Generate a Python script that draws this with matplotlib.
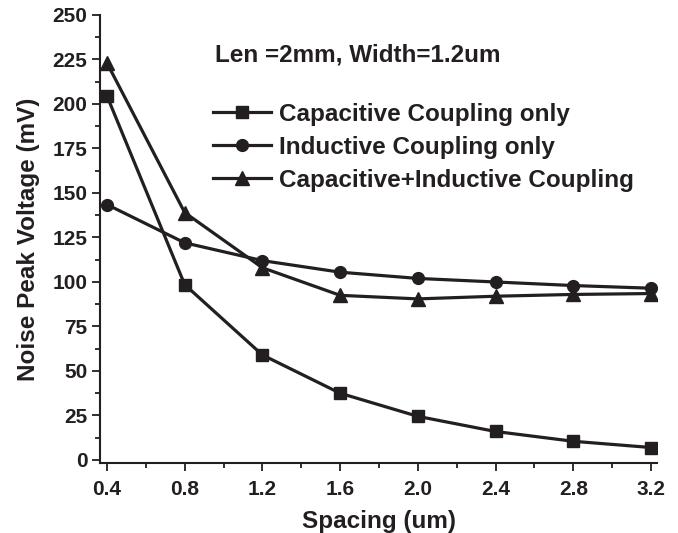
import matplotlib
matplotlib.use("Agg")
import matplotlib.pyplot as plt
from matplotlib.ticker import MultipleLocator, FormatStrFormatter

spacing = [0.4, 0.8, 1.2, 1.6, 2.0, 2.4, 2.8, 3.2]
cap_only = [204.5, 98.5, 59, 37.5, 24.5, 16, 10.5, 7]
ind_only = [143.5, 122, 112, 105.5, 102, 100, 98, 96.5]
cap_ind = [223, 139, 108, 92.5, 90.5, 92, 93, 93.5]
labels = ["Capacitive Coupling only", "Inductive Coupling only", "Capacitive+Inductive Coupling"]

C = "#231f20"
plt.rcParams['font.family'] = ['Liberation Sans', 'DejaVu Sans']
plt.rcParams['font.weight'] = 'bold'

fig = plt.figure(figsize=(6.78, 5.33), dpi=100)
ax = fig.add_axes([100/678, 1-463/533, 557/678, 448/533])

kw = dict(color=C, lw=2.3, markersize=8.5)
ax.plot(spacing, cap_only, marker='s', label=labels[0], **kw)
ax.plot(spacing, ind_only, marker='o', label=labels[1], **kw)
ax.plot(spacing, cap_ind, marker='^', label=labels[2], markersize=9.5, color=C, lw=2.3)

ax.set_xlim(0.364, 3.231)
ax.set_ylim(-1.7, 250)
ax.xaxis.set_major_locator(MultipleLocator(0.4))
ax.xaxis.set_minor_locator(MultipleLocator(0.2))
ax.yaxis.set_major_locator(MultipleLocator(25))
ax.yaxis.set_minor_locator(MultipleLocator(12.5))
ax.xaxis.set_major_formatter(FormatStrFormatter('%.1f'))

for s in ['top', 'right']:
    ax.spines[s].set_visible(False)
for s in ['left', 'bottom']:
    ax.spines[s].set_linewidth(1.5)
    ax.spines[s].set_color(C)

ax.tick_params(which='major', direction='out', length=6, width=1.3, color=C,
               labelsize=15, labelcolor=C, pad=3)
ax.tick_params(axis='x', which='major', pad=6)
ax.tick_params(which='minor', direction='out', length=3.5, width=1.3, color=C)
for t in ax.get_xticklabels() + ax.get_yticklabels():
    t.set_fontweight('bold')

ax.set_xlabel("Spacing (um)", fontsize=17.5, fontweight='bold', color=C, labelpad=8)
ax.set_ylabel("Noise Peak Voltage (mV)", fontsize=17.5, fontweight='bold', color=C, labelpad=9)

fig.text(215/678, 1-55/533, "Len =2mm, Width=1.2um", fontsize=17.5, fontweight='bold',
         color=C, va='center', ha='left')

leg = ax.legend(loc='upper left', bbox_to_anchor=(213/678, 1-103/533),
                bbox_transform=fig.transFigure, frameon=False, fontsize=17.5,
                handlelength=2.4, handletextpad=0.3, labelspacing=0.41,
                borderpad=0, borderaxespad=0)
for t in leg.get_texts():
    t.set_color(C)
    t.set_fontweight('bold')

fig.savefig("out.png", dpi=100)
